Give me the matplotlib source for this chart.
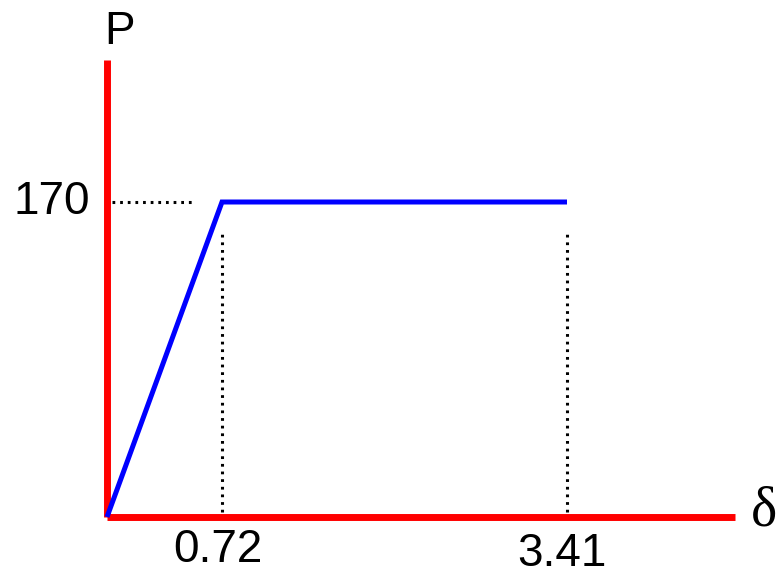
import matplotlib
matplotlib.use("Agg")
import matplotlib.pyplot as plt

# schematic load-deflection curve (x positions are schematic, not to scale)
delta_pos = [0, 1, 4]
load = [0, 170, 170]
delta_labels = ["0.72", "3.41"]
load_label = "170"

fig = plt.figure(figsize=(7.79, 5.77), dpi=100)
ax = fig.add_axes([0, 0, 1, 1])
ax.set_xlim(-107 / 115, (779 - 107) / 115)
ax.set_ylim(-60 / (315 / 170), 517 / (315 / 170))
ax.axis("off")

# red axes
ax.plot([0, 5.46], [0, 0], color="red", lw=5.0, solid_capstyle="butt", zorder=2)
ax.plot([0, 0], [0, 246.6], color="red", lw=5.0, solid_capstyle="butt", zorder=2)

# dotted guides
dots = dict(color="black", lw=2.2, linestyle=(0, (0.9, 1.6)), zorder=1)
ax.plot([0.04, 0.77], [load[1], load[1]], **dots)
for xp in delta_pos[1:]:
    ax.plot([xp, xp], [2.7, 154.9], **dots)

# curve
ax.plot(delta_pos, load, color="blue", lw=3.6, solid_capstyle="butt",
        solid_joinstyle="miter", zorder=3)

font = dict(family="Liberation Sans", color="black")
ax.text(-0.15, load[1], load_label, ha="right", va="center", fontsize=33, **font)
for xp, lab, yl in zip(delta_pos[1:], delta_labels, [-18, -20]):
    ax.text(xp - 0.04, yl, lab, ha="center", va="center", fontsize=33, **font)
ax.text(-0.02, 262, "P", ha="left", va="center", fontsize=33, **font)
ax.text(5.6, 3, "δ", ha="left", va="center", fontsize=40,
        family="Liberation Serif", color="black")

fig.savefig("out.png", dpi=100)
